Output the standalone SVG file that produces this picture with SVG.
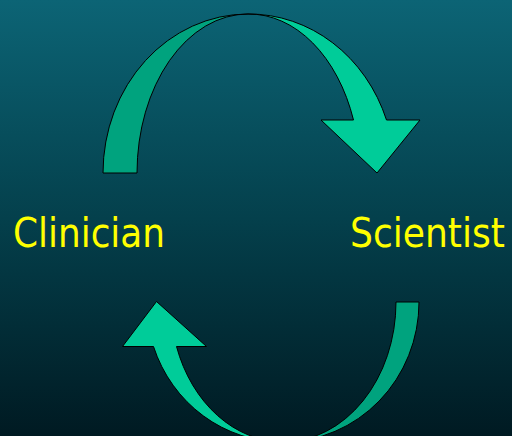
<svg xmlns="http://www.w3.org/2000/svg" width="512" height="436" viewBox="0 0 512 436">
  <defs>
    <linearGradient id="bg" x1="0" y1="0" x2="0" y2="1">
      <stop offset="0" stop-color="#0C6475"/>
      <stop offset="0.5" stop-color="#04404C"/>
      <stop offset="1" stop-color="#001A22"/>
    </linearGradient>
  </defs>
  <style>
    .dark { fill: #00A37E; stroke: #000; stroke-width: 1; stroke-linejoin: miter; }
    .light { fill: #00CC99; stroke: #000; stroke-width: 1; stroke-linejoin: miter; }
    .label { font-family: Tahoma, "DejaVu Sans Condensed", "DejaVu Sans", sans-serif; font-size: 40px; fill: #FFFF00; }
  </style>
  <rect width="512" height="436" fill="url(#bg)"/>

  <g id="connectors">
    <g id="arrow-top">
      <path class="dark" d="M 103 173 A 145 159 0 0 1 248 14 A 111 159 0 0 0 137 173 Z"/>
      <path class="light" d="M 248 14 A 146 159 0 0 1 386.5 120 L 420 120 L 377 173 L 321 120 L 353.5 120 A 111 159 0 0 0 248 14 Z"/>
    </g>
    <g id="arrow-bottom">
      <path class="dark" d="M 419 302 A 136 140 0 0 1 283 442 A 113 140 0 0 0 396 302 Z"/>
      <path class="light" d="M 283 442 A 136 140 0 0 1 153.5 346.5 L 122.5 346.5 L 156.5 301.5 L 206.5 346.5 L 176.5 346.5 A 113 140 0 0 0 283 442 Z"/>
    </g>
  </g>

  <g id="clinician">
    <text class="label" x="13" y="247" textLength="152" lengthAdjust="spacingAndGlyphs">Clinician</text>
  </g>
  <g id="scientist">
    <text class="label" x="350" y="247" textLength="155" lengthAdjust="spacingAndGlyphs">Scientist</text>
  </g>
</svg>
